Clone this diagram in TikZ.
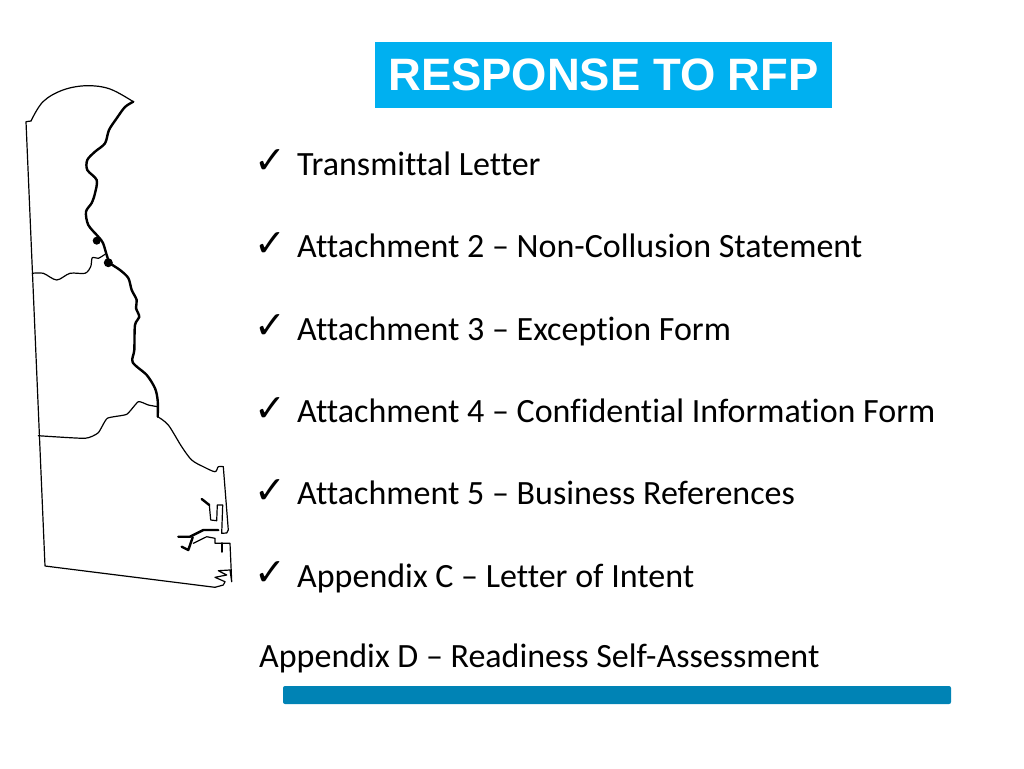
\documentclass[tikz,border=0pt]{standalone}
\usepackage{fontspec}
\setmainfont[Ligatures=NoCommon]{Carlito}
\newfontfamily\titlefont{Liberation Sans}
\newfontfamily\tickfont{DejaVu Sans}
\usetikzlibrary{positioning}
\definecolor{titleblue}{HTML}{00B0F0}
\definecolor{barblue}{HTML}{0083B5}
\tikzset{titlenode/.style={shape=rectangle, fill=titleblue, text=white, inner sep=0pt, minimum width=457pt, minimum height=66pt, font=\titlefont\bfseries\fontsize{45.4}{50}\selectfont}}
\tikzset{itemnode/.style={shape=rectangle, inner sep=0pt, text height=24pt, text depth=58pt, anchor=north west, font=\fontsize{34}{38}\selectfont}}
\tikzset{ticknode/.style={shape=rectangle, inner sep=0pt, font=\tickfont\fontsize{38}{40}\selectfont}}
\tikzset{barnode/.style={shape=rectangle, fill=barblue, rounded corners=2pt, inner sep=0pt, minimum width=668pt, minimum height=18pt}}
\tikzset{mapline/.style={black, line width=1.2pt, line join=round, line cap=round}}
\tikzset{coastline/.style={black, line width=2.4pt, line join=round, line cap=round}}
\begin{document}
\begin{tikzpicture}[x=1pt,y=-1pt]
\useasboundingbox (0,0) rectangle (1024,768);
%Nodes
\node[titlenode]  (title)  at (603.5,75) {RESPONSE TO RFP};
\node[itemnode]   (letter) at (297,151) {Transmittal Letter};
\node[itemnode]   (att2)   [below=0pt of letter.south west, anchor=north west] {Attachment 2 -- Non-Collusion Statement};
\node[itemnode]   (att3)   [below=0pt of att2.south west, anchor=north west] {Attachment 3 -- Exception Form};
\node[itemnode]   (att4)   [below=0pt of att3.south west, anchor=north west] {Attachment 4 -- Confidential Information Form};
\node[itemnode]   (att5)   [below=0pt of att4.south west, anchor=north west] {Attachment 5 -- Business References};
\node[itemnode]   (appc)   [below=0pt of att5.south west, anchor=north west] {Appendix C -- Letter of Intent};
\node[itemnode]   (appd)   at (259,643) {Appendix D -- Readiness Self-Assessment};
\foreach \item in {letter,att2,att3,att4,att5,appc}
  \node[ticknode] (tick\item) at ([xshift=-27pt,yshift=-11pt]\item.north west) {✓};
\node[barnode]    (bar)    at (617,695) {};
%Lines
\draw[mapline] plot[smooth,tension=0.6] coordinates {(31,121) (43,101.7) (63,90) (86.7,85.7) (110,89) (133.3,101.7)};
\draw[mapline] (31,121) -- (26,121.7) -- (45,566) -- (215,587.3);
\draw[coastline] plot[smooth,tension=0.5] coordinates {(133.3,101.7) (125,107) (116.7,118.3) (109,130) (105,143.3) (95,151.7) (87.3,160) (87.3,170) (96.7,180) (95,193.3) (91.7,203) (86,211.7) (88.3,225) (98.3,236.7) (103,243) (106.7,255) (110,263) (120,270) (128.3,278) (131.7,290) (136.7,300) (136,308) (139.3,317) (135,325) (134.3,350) (132.7,362.3) (146.7,375) (155,388.3) (157.7,400.7) (157.7,416.7)};
\draw[mapline] plot[smooth,tension=0.5] coordinates {(157.7,416.7) (168.3,425) (181.7,446.7) (191.7,460) (203.3,466.7) (215,471.7) (218.3,466.7) (223.3,466.7)};
\draw[mapline] (223.3,466.7) -- (228.3,530) -- (226.7,533) -- (221.7,533.3) -- (222.7,505) -- (217.3,505) -- (216.7,520.7) -- (210.7,520) -- (209.3,505);
\draw[coastline] (209.3,505) -- (201.7,499);
\draw[coastline] (218.3,530) -- (203.3,530) -- (190,536.7) -- (178.3,536.7);
\draw[coastline] (192.7,537.3) -- (188.3,550) -- (181.7,546.7);
\draw[mapline] (193.3,543.3) -- (206.7,536.7) -- (215,538.3) -- (215,543.3) -- (221.7,543.3);
\draw[coastline] (221.7,543.3) -- (221.7,551.7);
\draw[mapline] (221.7,543.3) -- (230,543.3) -- (231.7,581.7) -- (230,570) -- (218.3,570.7) -- (226.7,575) -- (215,577.3) -- (225,581.7) -- (223.3,585) -- (215,587.3);
\draw[mapline] plot[smooth,tension=0.5] coordinates {(32.3,273.3) (43.3,273.3) (56.7,280) (70,273.3) (85,273.3) (90.7,266.7) (92.3,257.7) (98.3,258.3) (105,254.3)};
\draw[mapline] plot[smooth,tension=0.3] coordinates {(38.3,435.7) (85,438.3) (98.3,432.7) (107.3,418.3) (126.7,414.3) (138.3,401.7) (148.3,405) (157.7,406.7)};
\fill (96.7,240.7) circle (4pt);
\fill (108.3,262.7) circle (4.5pt);
\end{tikzpicture}
\end{document}
